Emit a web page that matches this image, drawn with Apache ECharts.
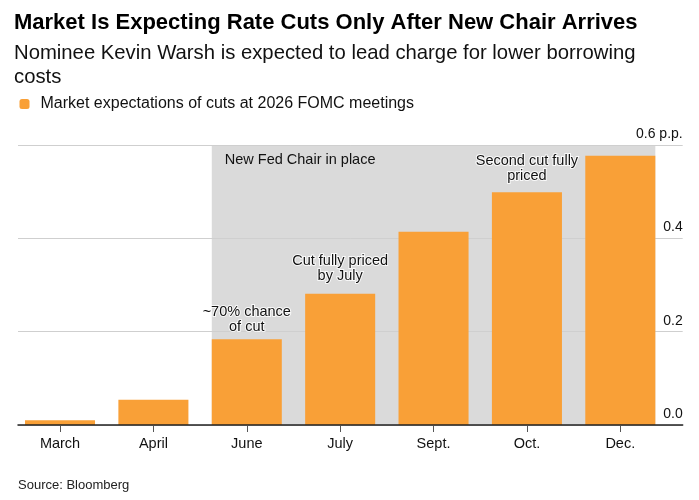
<!DOCTYPE html>
<html>
<head>
<meta charset="utf-8">
<script src="https://cdn.jsdelivr.net/npm/echarts@6/dist/echarts.min.js"></script>
<style>
html,body{margin:0;padding:0;background:#fff;}
#chart{width:699px;height:500px;}
</style>
</head>
<body>
<div id="chart"></div>
<script>
const categories = ['March', 'April', 'June', 'July', 'Sept.', 'Oct.', 'Dec.'];
const cutValues = [0.01, 0.054, 0.184, 0.281, 0.414, 0.499, 0.577];
const yTickValues = [0, 0.2, 0.4, 0.6];
const annotationTexts = {
  'June': '~70% chance\nof cut',
  'July': 'Cut fully priced\nby July',
  'Oct.': 'Second cut fully\npriced'
};
const annotationGaps = { 'June': 5, 'July': 10, 'Oct.': 9 };
const shadedFrom = 'June';
const shadedTo = 'Dec.';
const shadedLabel = 'New Fed Chair in place';
const seriesName = 'Market expectations of cuts at 2026 FOMC meetings';

const FONT = 'Liberation Sans, Arial, sans-serif';
const ORANGE = '#F9A037';
const BAR_FRACTION = 0.75;

const chart = echarts.init(document.getElementById('chart'));

const barData = cutValues.map((v, i) => {
  const c = categories[i];
  const item = { value: v };
  if (annotationTexts[c]) {
    item.label = {
      show: true,
      position: 'top',
      distance: annotationGaps[c],
      formatter: annotationTexts[c],
      fontFamily: FONT,
      fontSize: 14.5,
      lineHeight: 15,
      color: '#111',
      align: 'center',
      textBorderColor: 'rgba(255,255,255,0.85)',
      textBorderWidth: 2
    };
  }
  return item;
});

const yMin = yTickValues[0];
const yMax = yTickValues[yTickValues.length - 1];
const yStep = yTickValues[1] - yTickValues[0];

const option = {
  backgroundColor: '#fff',
  animation: false,
  title: [
    {
      text: 'Market Is Expecting Rate Cuts Only After New Chair Arrives',
      left: 14, top: 12,
      padding: 0,
      textStyle: { fontFamily: FONT, fontSize: 22, fontWeight: 'bold', color: '#000' }
    },
    {
      text: 'Nominee Kevin Warsh is expected to lead charge for lower borrowing\ncosts',
      left: 14, top: 41,
      padding: 0,
      textStyle: { fontFamily: FONT, fontSize: 20.3, fontWeight: 'normal', color: '#111', lineHeight: 24 }
    },
    {
      text: 'Source: Bloomberg',
      left: 18, top: 479,
      padding: 0,
      textStyle: { fontFamily: FONT, fontSize: 13, fontWeight: 'normal', color: '#222' }
    }
  ],
  legend: {
    left: 19.5, top: 96,
    padding: 0,
    icon: 'roundRect',
    itemWidth: 10, itemHeight: 10,
    data: [seriesName],
    selectedMode: false,
    textStyle: { fontFamily: FONT, fontSize: 16, color: '#111', padding: [0, 0, 0, 6] }
  },
  grid: [
    { left: 18, right: 16.3, top: 145, bottom: 75 },
    { left: 13.33, right: 32, top: 145, bottom: 75 }
  ],
  xAxis: [
    {
      gridIndex: 0, type: 'value', min: -0.45, max: 6.668,
      z: 4,
      axisLine: { show: true, lineStyle: { color: '#222', width: 1.5 } },
      axisTick: { show: false }, axisLabel: { show: false }, splitLine: { show: false }
    },
    {
      gridIndex: 1, type: 'category', data: categories,
      axisLine: { show: false },
      axisTick: { show: true, alignWithLabel: true, length: 7, lineStyle: { color: '#555', width: 1 } },
      axisLabel: { margin: 11, fontFamily: FONT, fontSize: 14.5, color: '#111' }
    }
  ],
  yAxis: [
    {
      gridIndex: 0, type: 'value', position: 'right',
      min: yMin, max: yMax, interval: yStep,
      z: 2,
      axisLine: { show: false }, axisTick: { show: false },
      splitLine: { show: true, lineStyle: { color: '#CFCFCF', width: 1 } },
      axisLabel: {
        inside: true, margin: 0,
        verticalAlign: 'bottom',
        padding: [0, 0, 4, 0],
        fontFamily: FONT, fontSize: 14, color: '#111',
        formatter: v => (Math.abs(v - yMax) < 1e-9 ? v.toFixed(1) + ' p.p.' : v.toFixed(1))
      }
    },
    { gridIndex: 1, type: 'value', min: yMin, max: yMax, show: false }
  ],
  series: [
    {
      type: 'line', xAxisIndex: 0, yAxisIndex: 0, data: [], silent: true, z: 1,
      markArea: {
        silent: true, z: 1,
        itemStyle: { color: '#DADADA' },
        label: {
          show: true, position: 'insideTopLeft', distance: 0,
          padding: [7, 0, 0, 13],
          formatter: shadedLabel,
          fontFamily: FONT, fontSize: 14.5, color: '#111'
        },
        data: [[
          { xAxis: categories.indexOf(shadedFrom) - BAR_FRACTION / 2, yAxis: yMin },
          { xAxis: categories.indexOf(shadedTo) + BAR_FRACTION / 2, yAxis: yMax }
        ]]
      }
    },
    {
      name: seriesName,
      type: 'bar', xAxisIndex: 1, yAxisIndex: 1,
      barWidth: (BAR_FRACTION * 100) + '%',
      z: 3,
      itemStyle: { color: ORANGE },
      data: barData
    }
  ]
};

chart.setOption(option);
</script>
</body>
</html>
